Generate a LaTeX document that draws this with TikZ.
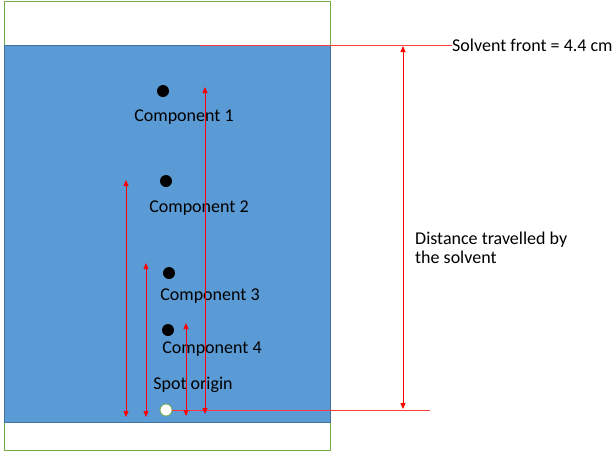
\documentclass[tikz,border=0pt]{standalone}
\usepackage{fontspec}
\setmainfont{Carlito}
\usetikzlibrary{arrows.meta}
\definecolor{plate}{RGB}{91,155,213}
\definecolor{plateedge}{RGB}{65,113,156}
\definecolor{platerim}{RGB}{112,173,71}
\definecolor{guide}{RGB}{255,60,60}

\begin{document}
\begin{tikzpicture}[x=1pt,y=-1pt,
  spot/.style={circle,fill=black,inner sep=0pt,minimum size=12pt},
  lbl/.style={font=\fontsize{18}{19}\selectfont,inner sep=0pt},
  guideline/.style={guide,line width=0.8pt},
  dist/.style={red,line width=0.8pt,{Triangle[width=5pt,length=6pt]}-{Triangle[width=5pt,length=6pt]}}]
  \useasboundingbox (0,0) rectangle (615,453);

  % plate
  \draw[platerim,line width=1pt] (4,1) rectangle (330,450);
  \draw[plateedge,fill=plate,line width=0.6pt] (4,45) rectangle (330,422);

  % spots
  \node[spot] (c1) at (163,91) {};
  \node[spot] (c2) at (166,181) {};
  \node[spot] (c3) at (169,273) {};
  \node[spot] (c4) at (168,330) {};
  \node[circle,draw=platerim,fill=white,line width=0.8pt,inner sep=0pt,minimum size=12pt] (origin) at (166,410) {};

  \node[lbl] (l1) at (184,117) {Component 1};
  \node[lbl] (l2) at (199,208) {Component 2};
  \node[lbl] (l3) at (210,296) {Component 3};
  \node[lbl] (l4) at (212,349) {Component 4};
  \node[lbl] (lo) at (193,385) {Spot origin};

  % solvent front and origin lines
  \node[lbl,anchor=west] (front) at (452,45) {Solvent front = 4.4 cm};
  \coordinate (fstart) at (200,45);
  \draw[guideline] (fstart) -- (front.west);
  \coordinate (oend) at (430,410);
  \draw[guideline] (origin) -- (oend);

  \node[lbl,anchor=west,align=left] (dtext) at (415,248) {Distance travelled by\\the solvent};

  % distances
  \coordinate (stop) at (403,46);
  \coordinate (sbot) at (403,409);
  \draw[dist] (stop) -- (sbot);

  \coordinate (d2top) at (126,180);
  \coordinate (d2bot) at (126,417);
  \draw[dist] (d2top) -- (d2bot);
  \coordinate (d3top) at (146,263);
  \coordinate (d3bot) at (146,417);
  \draw[dist] (d3top) -- (d3bot);
  \coordinate (d4top) at (186,323);
  \coordinate (d4bot) at (186,416);
  \draw[dist] (d4top) -- (d4bot);
  \coordinate (d1top) at (205,87);
  \coordinate (d1bot) at (205,414);
  \draw[dist] (d1top) -- (d1bot);
\end{tikzpicture}
\end{document}
